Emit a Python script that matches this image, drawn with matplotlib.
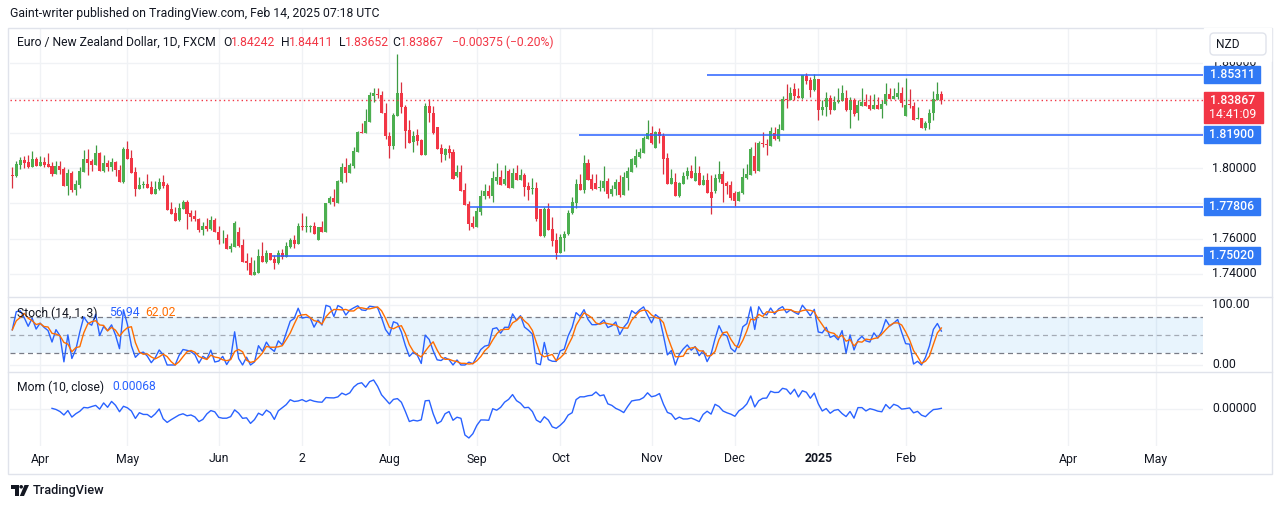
import numpy as np
import pandas as pd
import matplotlib
matplotlib.use("Agg")
import matplotlib.pyplot as plt
from matplotlib.patches import Rectangle, FancyBboxPatch, Polygon, Circle

plt.rcParams['font.family'] = ['Roboto', 'DejaVu Sans']

# ---------------- data (EUR/NZD daily, FXCM) ----------------
open_ = [
 1.7962,1.7956,1.8021,1.8046,1.8036,1.8010,1.8053,1.8015,1.8036,1.8025,
 1.8013,1.7970,1.8013,1.7994,1.7901,1.7975,1.7878,1.7907,1.7979,1.8053,
 1.8040,1.8021,1.8089,1.7987,1.8030,1.8010,1.8038,1.7991,1.7924,1.8110,
 1.8057,1.7979,1.7882,1.7903,1.7911,1.7892,1.7856,1.7880,1.7922,1.7905,
 1.7768,1.7745,1.7704,1.7768,1.7808,1.7745,1.7726,1.7713,1.7649,1.7671,
 1.7656,1.7706,1.7637,1.7601,1.7603,1.7542,1.7554,1.7637,1.7563,1.7472,
 1.7464,1.7394,1.7405,1.7500,1.7468,1.7516,1.7485,1.7460,1.7516,1.7495,
 1.7554,1.7592,1.7569,1.7673,1.7668,1.7668,1.7671,1.7593,1.7666,1.7639,
 1.7802,1.7831,1.7804,1.7924,1.8008,1.7975,1.8015,1.8095,1.8209,1.8201,
 1.8264,1.8414,1.8422,1.8418,1.8314,1.8186,1.8129,1.8300,1.8429,1.8350,
 1.8219,1.8148,1.8190,1.8160,1.8076,1.8355,1.8315,1.8236,1.8116,1.8078,
 1.8110,1.8095,1.7958,1.7979,1.7877,1.7797,1.7688,1.7668,1.7753,1.7840,
 1.7873,1.7844,1.7928,1.7951,1.7909,1.7985,1.7890,1.7975,1.7934,1.7964,
 1.7899,1.7880,1.7888,1.7770,1.7616,1.7770,1.7654,1.7592,1.7517,1.7605,
 1.7624,1.7744,1.7804,1.7911,1.7877,1.8030,1.7937,1.7916,1.7890,1.7890,
 1.7928,1.7854,1.7880,1.7922,1.7850,1.7947,1.7981,1.8019,1.8063,1.8089,
 1.8169,1.8201,1.8118,1.8205,1.8184,1.8059,1.7913,1.7922,1.7844,1.7911,
 1.7954,1.7985,1.7928,1.7973,1.7907,1.7934,1.7865,1.7871,1.7939,1.7968,
 1.7916,1.7905,1.7858,1.7816,1.7861,1.7947,1.7964,1.8070,1.7985,1.8143,
 1.8139,1.8129,1.8201,1.8167,1.8220,1.8397,1.8390,1.8452,1.8412,1.8401,
 1.8526,1.8500,1.8443,1.8509,1.8334,1.8348,1.8399,1.8334,1.8376,1.8384,
 1.8401,1.8329,1.8388,1.8312,1.8357,1.8378,1.8361,1.8340,1.8361,1.8340,
 1.8363,1.8424,1.8397,1.8403,1.8429,1.8295,1.8363,1.8355,1.8283,1.8287,
 1.8232,1.8255,1.8312,1.8390,1.84242]
high = [
 1.8006,1.8042,1.8065,1.8070,1.8076,1.8099,1.8067,1.8070,1.8065,1.8089,
 1.8038,1.8042,1.8040,1.8008,1.7994,1.7987,1.7934,1.8008,1.8105,1.8110,
 1.8053,1.8133,1.8095,1.8078,1.8048,1.8057,1.8042,1.8017,1.8122,1.8156,
 1.8105,1.8008,1.7951,1.7926,1.7966,1.7928,1.7928,1.7943,1.7962,1.7918,
 1.7808,1.7778,1.7801,1.7820,1.7820,1.7763,1.7763,1.7717,1.7692,1.7717,
 1.7728,1.7717,1.7673,1.7649,1.7624,1.7573,1.7700,1.7666,1.7597,1.7521,
 1.7495,1.7478,1.7540,1.7578,1.7533,1.7521,1.7506,1.7538,1.7542,1.7578,
 1.7601,1.7620,1.7687,1.7745,1.7728,1.7675,1.7694,1.7668,1.7702,1.7804,
 1.7842,1.7882,1.7934,1.8030,1.8061,1.8030,1.8124,1.8215,1.8258,1.8338,
 1.8435,1.8454,1.8454,1.8437,1.8372,1.8209,1.8315,1.8652,1.8492,1.8361,
 1.8276,1.8213,1.8224,1.8165,1.8372,1.8395,1.8353,1.8236,1.8139,1.8116,
 1.8135,1.8110,1.8019,1.8021,1.7916,1.7814,1.7728,1.7778,1.7877,1.7913,
 1.7907,1.7985,1.8032,1.7991,1.8021,1.7998,1.8002,1.8021,1.7998,1.7973,
 1.7920,1.7947,1.7920,1.7770,1.7778,1.7801,1.7721,1.7630,1.7628,1.7645,
 1.7763,1.7839,1.7939,1.7968,1.8076,1.8053,1.7968,1.7968,1.7934,1.8013,
 1.7943,1.7905,1.7937,1.7962,1.7981,1.8008,1.8061,1.8110,1.8116,1.8184,
 1.8276,1.8241,1.8211,1.8230,1.8201,1.8087,1.7996,1.7973,1.7924,1.7977,
 1.8008,1.8019,1.8070,1.8013,1.7962,1.7973,1.7962,1.7968,1.8042,1.7985,
 1.7926,1.7928,1.7871,1.7871,1.8004,1.8023,1.8122,1.8152,1.8156,1.8205,
 1.8167,1.8236,1.8236,1.8253,1.8412,1.8481,1.8464,1.8486,1.8454,1.8532,
 1.8543,1.8521,1.8538,1.8509,1.8388,1.8435,1.8416,1.8412,1.8458,1.8473,
 1.8443,1.8407,1.8399,1.8388,1.8458,1.8424,1.8418,1.8424,1.8407,1.8386,
 1.8486,1.8458,1.8454,1.8492,1.8464,1.8515,1.8452,1.8378,1.8350,1.8287,
 1.8270,1.8338,1.8441,1.8492,1.84411]
low = [
 1.7890,1.7951,1.7998,1.8004,1.8002,1.8008,1.8013,1.8013,1.8010,1.8008,
 1.7958,1.7968,1.7970,1.7901,1.7850,1.7865,1.7846,1.7890,1.7979,1.7964,
 1.7987,1.8021,1.7985,1.7979,1.7987,1.7987,1.7958,1.7922,1.7918,1.8055,
 1.7973,1.7844,1.7880,1.7890,1.7890,1.7856,1.7854,1.7878,1.7890,1.7764,
 1.7742,1.7702,1.7702,1.7766,1.7656,1.7702,1.7702,1.7639,1.7622,1.7641,
 1.7649,1.7637,1.7569,1.7576,1.7540,1.7525,1.7552,1.7550,1.7468,1.7419,
 1.7394,1.7392,1.7403,1.7466,1.7460,1.7478,1.7428,1.7457,1.7485,1.7495,
 1.7546,1.7548,1.7567,1.7649,1.7635,1.7635,1.7628,1.7593,1.7639,1.7639,
 1.7795,1.7787,1.7804,1.7918,1.7922,1.7973,1.8004,1.8093,1.8203,1.8198,
 1.8262,1.8376,1.8399,1.8312,1.8169,1.8061,1.8112,1.8298,1.8312,1.8118,
 1.8144,1.8095,1.8133,1.8074,1.8074,1.8266,1.8196,1.8112,1.8034,1.8049,
 1.8057,1.7941,1.7953,1.7873,1.7793,1.7650,1.7662,1.7666,1.7736,1.7827,
 1.7833,1.7810,1.7911,1.7907,1.7907,1.7890,1.7888,1.7934,1.7932,1.7842,
 1.7821,1.7856,1.7702,1.7614,1.7612,1.7649,1.7559,1.7485,1.7517,1.7531,
 1.7618,1.7740,1.7772,1.7875,1.7861,1.7934,1.7877,1.7882,1.7873,1.7873,
 1.7833,1.7842,1.7850,1.7837,1.7848,1.7877,1.7979,1.8008,1.8061,1.8087,
 1.8167,1.8139,1.8118,1.8146,1.7970,1.7911,1.7911,1.7844,1.7839,1.7909,
 1.7937,1.7945,1.7926,1.7905,1.7905,1.7859,1.7742,1.7861,1.7924,1.7810,
 1.7852,1.7818,1.7785,1.7814,1.7856,1.7941,1.7962,1.7972,1.7985,1.8120,
 1.8076,1.8127,1.8162,1.8156,1.8219,1.8344,1.8388,1.8390,1.8399,1.8397,
 1.8481,1.8407,1.8437,1.8276,1.8304,1.8300,1.8310,1.8333,1.8374,1.8382,
 1.8327,1.8232,1.8298,1.8276,1.8355,1.8353,1.8334,1.8340,1.8340,1.8287,
 1.8361,1.8395,1.8395,1.8395,1.8346,1.8295,1.8342,1.8272,1.8281,1.8232,
 1.8220,1.8226,1.8277,1.8388,1.83652]
close = [
 1.7958,1.8025,1.8048,1.8032,1.8010,1.8053,1.8015,1.8036,1.8021,1.8010,
 1.7970,1.8013,1.7992,1.7901,1.7975,1.7877,1.7911,1.7985,1.8053,1.8032,
 1.8021,1.8089,1.7987,1.8030,1.8010,1.8038,1.7989,1.7924,1.8110,1.8055,
 1.7975,1.7884,1.7905,1.7911,1.7890,1.7856,1.7882,1.7922,1.7897,1.7764,
 1.7742,1.7702,1.7774,1.7806,1.7742,1.7725,1.7709,1.7649,1.7671,1.7656,
 1.7706,1.7639,1.7592,1.7605,1.7542,1.7559,1.7688,1.7557,1.7468,1.7464,
 1.7394,1.7409,1.7500,1.7468,1.7516,1.7478,1.7462,1.7516,1.7495,1.7557,
 1.7592,1.7569,1.7671,1.7668,1.7673,1.7673,1.7628,1.7666,1.7639,1.7802,
 1.7831,1.7806,1.7930,1.8008,1.7975,1.8019,1.8099,1.8207,1.8203,1.8270,
 1.8418,1.8429,1.8418,1.8312,1.8181,1.8129,1.8304,1.8429,1.8346,1.8215,
 1.8146,1.8186,1.8158,1.8076,1.8355,1.8312,1.8201,1.8112,1.8080,1.8110,
 1.8089,1.7941,1.7979,1.7873,1.7793,1.7685,1.7666,1.7757,1.7842,1.7871,
 1.7844,1.7945,1.7951,1.7907,1.7939,1.7890,1.7975,1.7935,1.7964,1.7896,
 1.7878,1.7888,1.7711,1.7616,1.7770,1.7650,1.7588,1.7517,1.7611,1.7626,
 1.7745,1.7806,1.7911,1.7877,1.8030,1.7934,1.7882,1.7882,1.7894,1.7928,
 1.7854,1.7882,1.7922,1.7850,1.7951,1.7987,1.8053,1.8070,1.8093,1.8173,
 1.8201,1.8144,1.8205,1.8181,1.8053,1.7911,1.7943,1.7844,1.7916,1.7956,
 1.7985,1.7947,1.7973,1.7907,1.7934,1.7861,1.7831,1.7943,1.7968,1.7911,
 1.7901,1.7833,1.7814,1.7865,1.7951,1.7968,1.8110,1.7985,1.8144,1.8139,
 1.8135,1.8213,1.8167,1.8222,1.8395,1.8391,1.8428,1.8409,1.8401,1.8530,
 1.8494,1.8443,1.8509,1.8333,1.8350,1.8399,1.8334,1.8378,1.8388,1.8429,
 1.8329,1.8388,1.8310,1.8361,1.8378,1.8355,1.8338,1.8361,1.8340,1.8367,
 1.8424,1.8397,1.8409,1.8429,1.8374,1.8361,1.8359,1.8276,1.8287,1.8232,
 1.8257,1.8314,1.8395,1.8424,1.83867]

levels = [1.85311, 1.81900, 1.77806, 1.75020]
last_price = 1.83867
price_ticks = [1.86, 1.80, 1.76, 1.74]
tick_dates = ['2024-04-01', '2024-05-01', '2024-06-03', '2024-07-02', '2024-08-01',
              '2024-09-02', '2024-10-01', '2024-11-01', '2024-12-02', '2025-01-02',
              '2025-02-03', '2025-04-01', '2025-05-01']
tick_labels = ['Apr', 'May', 'Jun', '2', 'Aug', 'Sep', 'Oct', 'Nov', 'Dec', '2025',
               'Feb', 'Apr', 'May']
holidays = ['2024-12-25', '2025-01-01']

# ---------------- derived ----------------
o = np.array(open_); h = np.array(high); l = np.array(low); c = np.array(close)
n = len(c)
x = np.arange(n)
dates = pd.bdate_range('2024-03-21', '2025-02-14').drop(pd.to_datetime(holidays))
all_dates = dates.append(pd.bdate_range('2025-02-17', '2025-06-30'))
tick_idx = [all_dates.get_loc(pd.Timestamp(d)) for d in tick_dates]

cs = pd.Series(c)
hh = pd.Series(h).rolling(14, min_periods=1).max()
ll = pd.Series(l).rolling(14, min_periods=1).min()
stoch_k = (100 * (cs - ll) / (hh - ll)).values
stoch_d = pd.Series(stoch_k).rolling(3, min_periods=1).mean().values
mom = (cs - cs.shift(10)).values

# ---------------- layout ----------------
W, H = 1281, 508
fig = plt.figure(figsize=(W / 100, H / 100), dpi=100)
fig.patch.set_facecolor('white')

def rect(x0, y0, x1, y1):
    return [x0 / W, 1 - y1 / H, (x1 - x0) / W, (y1 - y0) / H]

PL, PR = 10, 1203
ax = fig.add_axes(rect(PL, 28, PR, 297))
ax_s = fig.add_axes(rect(PL, 297, PR, 372))
ax_m = fig.add_axes(rect(PL, 372, PR, 446))
XMIN, XMAX = -0.58, 299.9
GRID = '#F0F2F5'
TXT = '#131722'
UP, DN = '#4CAF50', '#F23645'
UPW, DNW = '#3E9B43', '#D9303F'
BLUE = '#2962FF'

for a in (ax, ax_s, ax_m):
    a.set_xlim(XMIN, XMAX)
    a.set_xticks([]); a.set_yticks([])
    for s in a.spines.values():
        s.set_visible(False)
    for t in tick_idx:
        a.axvline(t, color=GRID, lw=1, zorder=0)

# main pane
ax.set_ylim(1.72679, 1.87981)
for g in np.arange(1.74, 1.861, 0.02):
    ax.axhline(g, color=GRID, lw=1, zorder=0)
up = c >= o
body_lo = np.minimum(o, c)
body_h = np.maximum(np.abs(c - o), 0.00045)
ax.vlines(x[up], l[up], h[up], color=UPW, lw=0.9, zorder=2)
ax.vlines(x[~up], l[~up], h[~up], color=DNW, lw=0.9, zorder=2)
ax.bar(x[up], body_h[up], bottom=body_lo[up], width=0.76, color=UP, lw=0, zorder=3)
ax.bar(x[~up], body_h[~up], bottom=body_lo[~up], width=0.76, color=DN, lw=0, zorder=3)
ax.axhline(last_price, color=DN, lw=1, ls=(0, (1, 2.2)), zorder=4)
level_start = [175.0, 142.7, 115.3, 65.4]
for lv, xs in zip(levels, level_start):
    ax.hlines(lv, xs, XMAX, color=BLUE, lw=1.1, zorder=5)

# stochastic pane
ax_s.set_ylim(-11.67, 113.3)
ax_s.axhspan(20, 80, color='#2196F3', alpha=0.1, lw=0, zorder=0)
for g in (0, 100):
    ax_s.axhline(g, color=GRID, lw=1, zorder=0)
for g in (80, 50, 20):
    ax_s.axhline(g, color='#787B86', lw=0.9, ls=(0, (4, 3)), zorder=1,
                 alpha=1 if g != 50 else 0.6)
ax_s.plot(x, stoch_k, color=BLUE, lw=1, zorder=3)
ax_s.plot(x, stoch_d, color='#FF6D00', lw=1, zorder=4)

# momentum pane
mn, mx = np.nanmin(mom), np.nanmax(mom)
rng = mx - mn
ax_m.set_ylim(mn - rng * 8 / 58, mx + rng * 8 / 58)
ax_m.axhline(0, color=GRID, lw=1, zorder=0)
ax_m.plot(x, mom, color=BLUE, lw=1, zorder=3)

# ---------------- overlay (pixel coordinates) ----------------
ov = fig.add_axes([0, 0, 1, 1], zorder=10)
ov.set_xlim(0, W); ov.set_ylim(H, 0); ov.axis('off')

fig.canvas.draw()
def price_y(p):
    return H - ax.transData.transform((0, p))[1]
def idx_x(i):
    return ax.transData.transform((i, 0))[0]

# frame and separators
ov.add_patch(Rectangle((8, 27.5), 1264, 446, fill=False, ec='#E0E3EB', lw=1))
for yy in (297, 372):
    ov.plot([8, 1272], [yy, yy], color='#E0E3EB', lw=1)

ov.text(10, 14, 'Gaint-writer published on TradingView.com, Feb 14, 2025 07:18 UTC',
        fontsize=8.85, color=TXT, va='center', ha='left')

# legend row
fs = 8.7
parts = [('Euro / New Zealand Dollar, 1D, FXCM', TXT, 17),
         ('O', TXT, 223), ('1.84242', DN, 231),
         ('H', TXT, 281), ('1.84411', DN, 289),
         ('L', TXT, 339), ('1.83652', DN, 345),
         ('C', TXT, 392), ('1.83867', DN, 400),
         ('\u22120.00375 (\u22120.20%)', DN, 452)]
for t, col, xx in parts:
    ov.text(xx, 42, t, fontsize=fs, color=col, va='center', ha='left')

ov.text(17, 313, 'Stoch (14, 1, 3)', fontsize=fs, color=TXT, va='center', ha='left')
ov.text(109, 313, '56.94', fontsize=fs, color=BLUE, va='center', ha='left')
ov.text(145, 313, '62.02', fontsize=fs, color='#FF6D00', va='center', ha='left')
ov.text(17, 387, 'Mom (10, close)', fontsize=fs, color=TXT, va='center', ha='left')
ov.text(112, 387, '0.00068', fontsize=fs, color=BLUE, va='center', ha='left')

# price scale
for p in price_ticks:
    ov.text(1212, price_y(p), f'{p:.5f}', fontsize=8.8, color=TXT, va='center', ha='left')
ov.add_patch(Rectangle((1204, 28), 67, 32.5, color='white', zorder=5))
ov.add_patch(FancyBboxPatch((1210, 33), 56, 22, boxstyle='round,pad=0,rounding_size=4',
                            fc='white', ec='#E0E3EB', lw=1, zorder=6))
ov.text(1216, 44.5, 'NZD', fontsize=8.6, color=TXT, va='center', ha='left', zorder=7)
for lv in levels:
    yy = price_y(lv)
    ov.add_patch(Rectangle((1204, yy - 8.5), 56, 17, color='#3179F5', zorder=8))
    ov.text(1232, yy, f'{lv:.5f}', fontsize=8.8, color='white', va='center',
            ha='center', fontweight='medium', zorder=9)
yy = price_y(last_price)
ov.add_patch(Rectangle((1204, yy - 8.5), 59, 31, color=DN, zorder=8))
ov.text(1233, yy, f'{last_price:.5f}', fontsize=8.8, color='white', va='center',
        ha='center', fontweight='medium', zorder=9)
ov.text(1233, yy + 14.5, '14:41:09', fontsize=8.8, color='white', va='center',
        ha='center', zorder=9)

ov.text(1212, 305, '100.00', fontsize=8.8, color=TXT, va='center', ha='left')
ov.text(1212, 365, '0.00', fontsize=8.8, color=TXT, va='center', ha='left')
ov.text(1212, 409, '0.00000', fontsize=8.8, color=TXT, va='center', ha='left')

# time axis
for t, lab in zip(tick_idx, tick_labels):
    ov.text(idx_x(t), 459, lab, fontsize=8.8, color=TXT, va='center', ha='center',
            fontweight='bold' if lab == '2025' else 'normal')

# TradingView logo + name
ov.add_patch(Polygon([(11, 485), (18.5, 485), (18.5, 496), (15, 496), (15, 488.5), (11, 488.5)],
                     closed=True, color=TXT, lw=0))
ov.add_patch(Circle((21.2, 486.8), 1.8, color=TXT, lw=0))
ov.add_patch(Polygon([(24.5, 485), (29, 485), (24, 496), (19.8, 496)], closed=True, color=TXT, lw=0))
ov.text(33, 490.5, 'TradingView', fontsize=9.2, color=TXT, va='center', ha='left',
        fontweight='medium')

fig.savefig('out.png', dpi=100, facecolor='white')
